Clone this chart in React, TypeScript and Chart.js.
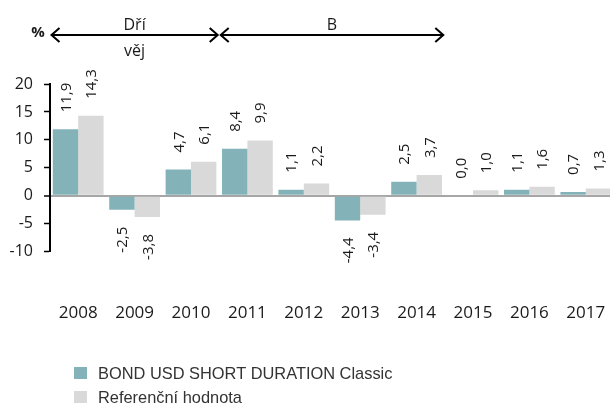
import { useEffect, useRef } from 'react';
import { Chart, registerables } from 'chart.js';

Chart.register(...registerables);

const years = ['2008', '2009', '2010', '2011', '2012', '2013', '2014', '2015', '2016', '2017'];
const fundLabel = 'BOND USD SHORT DURATION Classic';
const benchLabel = 'Referenční hodnota';
const fundValues = [11.9, -2.5, 4.7, 8.4, 1.1, -4.4, 2.5, 0.0, 1.1, 0.7];
const benchValues = [14.3, -3.8, 6.1, 9.9, 2.2, -3.4, 3.7, 1.0, 1.6, 1.3];
const yTicks = [-10, -5, 0, 5, 10, 15, 20];
const unitLabel = '%';
const periodTopLabels = ['Dří', 'B'];
const periodBottomLabels = ['věj', ''];
const periodStartIndex = [0, 3];
const periodEndIndex = [3, 7];

const FUND_COLOR = '#83b3b9';
const BENCH_COLOR = '#d9d9d9';
const TEXT_COLOR = '#1a1a1a';
const NUM_FONT = '"Open Sans", "DejaVu Sans", sans-serif';

const fmt = (v: number) => v.toFixed(1).replace('.', ',');

const valueLabels = {
  id: 'valueLabels',
  afterDatasetsDraw(chart: any) {
    const c = chart.ctx;
    c.save();
    c.fillStyle = TEXT_COLOR;
    c.font = `15px ${NUM_FONT}`;
    c.textBaseline = 'middle';
    chart.data.datasets.forEach((ds: any, di: number) => {
      const meta = chart.getDatasetMeta(di);
      meta.data.forEach((bar: any, i: number) => {
        const v = ds.data[i] as number;
        const neg = v < 0;
        c.save();
        c.translate(bar.x, neg ? bar.y + 17 : bar.y - 17);
        c.rotate(-Math.PI / 2);
        c.textAlign = neg ? 'right' : 'left';
        c.fillText(fmt(v), 0, 1);
        c.restore();
      });
    });
    c.restore();
  },
};

const drawArrow = (c: CanvasRenderingContext2D, x1: number, x2: number, y: number) => {
  c.beginPath();
  c.moveTo(x1, y);
  c.lineTo(x2, y);
  c.moveTo(x1 + 8, y - 7);
  c.lineTo(x1, y);
  c.lineTo(x1 + 8, y + 7);
  c.moveTo(x2 - 8, y - 7);
  c.lineTo(x2, y);
  c.lineTo(x2 - 8, y + 7);
  c.stroke();
};

const header = {
  id: 'header',
  afterDraw(chart: any) {
    const c = chart.ctx;
    const xs = chart.scales.x;
    const step = xs.getPixelForValue(1) - xs.getPixelForValue(0);
    const edge = (i: number) => xs.getPixelForValue(i) - step / 2;
    c.save();
    c.fillStyle = TEXT_COLOR;
    c.strokeStyle = '#000';
    c.lineWidth = 2;
    c.font = `bold 15px ${NUM_FONT}`;
    c.textAlign = 'center';
    c.textBaseline = 'middle';
    c.fillText(unitLabel, 38, 33);
    periodTopLabels.forEach((lab, i) => {
      const x1 = edge(periodStartIndex[i]) + 1.5;
      const x2 = edge(periodEndIndex[i]) - 1.5;
      drawArrow(c, x1, x2, 35);
      const cx = (x1 + x2) / 2;
      c.font = `16px ${NUM_FONT}`;
      c.textBaseline = 'alphabetic';
      c.fillText(lab, cx, 30);
      if (periodBottomLabels[i]) c.fillText(periodBottomLabels[i], cx, 56);
    });
    c.restore();
  },
};

const legend = {
  id: 'customLegend',
  afterDraw(chart: any) {
    const c = chart.ctx;
    c.save();
    c.font = '16.4px "Liberation Sans", sans-serif';
    c.textBaseline = 'middle';
    c.textAlign = 'left';
    chart.data.datasets.forEach((ds: any, i: number) => {
      const y = 373 + i * 24;
      c.fillStyle = ds.backgroundColor;
      c.fillRect(74, y - 6, 13, 12);
      c.fillStyle = '#333';
      c.fillText(ds.label, 98, y + 1);
    });
    c.restore();
  },
};

export default function App() {
  const ref = useRef<HTMLCanvasElement>(null);
  useEffect(() => {
    document.body.style.margin = '0';
    document.body.style.overflow = 'hidden';
    const chart = new Chart(ref.current!, {
      type: 'bar',
      data: {
        labels: years,
        datasets: [
          { label: fundLabel, data: fundValues, backgroundColor: FUND_COLOR, categoryPercentage: 0.9, barPercentage: 1 },
          { label: benchLabel, data: benchValues, backgroundColor: BENCH_COLOR, categoryPercentage: 0.9, barPercentage: 1 },
        ],
      },
      options: {
        responsive: false,
        animation: false,
        devicePixelRatio: 1,
        layout: { padding: { top: 84, right: 6, bottom: 0, left: 0 } },
        plugins: { legend: { display: false }, tooltip: { enabled: false } },
        scales: {
          x: {
            grid: { display: false, drawTicks: true, tickLength: 48 },
            border: { display: false },
            ticks: { padding: 3, color: TEXT_COLOR, font: { family: NUM_FONT, size: 17 }, maxRotation: 0, autoSkip: false },
            afterFit: (s: any) => { s.height = 154.3; s.paddingLeft = 0; s.paddingRight = 0; },
          },
          y: {
            min: -10,
            max: 20,
            afterBuildTicks: (s: any) => { s.ticks = yTicks.map((v) => ({ value: v })); },
            ticks: { padding: 11, color: TEXT_COLOR, font: { family: NUM_FONT, size: 16 } },
            grid: {
              drawOnChartArea: true,
              color: (ctx: any) => (ctx.tick && ctx.tick.value === 0 ? '#a6a6a6' : 'rgba(0,0,0,0)'),
              lineWidth: (ctx: any) => (ctx.tick && ctx.tick.value === 0 ? 2 : 1),
              tickColor: '#000',
              tickWidth: 1.5,
              tickLength: 6,
            },
            border: { display: true, color: '#000', width: 2 },
            afterFit: (s: any) => { s.width = 50; },
          },
        },
      },
      plugins: [valueLabels, header, legend],
    });
    return () => chart.destroy();
  }, []);
  return (
    <div style={{ width: 610, height: 406, overflow: 'hidden', position: 'relative', background: '#fff' }}>
      <canvas ref={ref} width={620} height={406} style={{ display: 'block' }} />
    </div>
  );
}
